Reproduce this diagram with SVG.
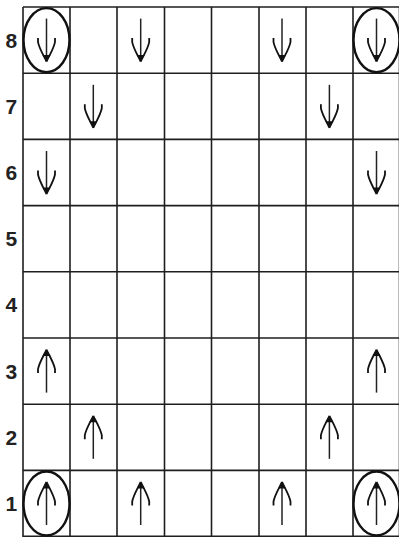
<svg xmlns="http://www.w3.org/2000/svg" width="399" height="537" viewBox="0 0 399 537">
<style>
.grid line{stroke:#1e1e1e;stroke-width:1.6}
.lbl{font-family:"Liberation Sans",Arial,sans-serif;font-weight:bold;font-size:21px;fill:#222;text-anchor:middle}
.ring{fill:none;stroke:#111;stroke-width:2.4}
</style>
<defs>
<g id="down">
<line x1="0" y1="-21.5" x2="0" y2="19" stroke="#222" stroke-width="1.5"/>
<path d="M-8.5,-2 L-8.5,2 C-7,9 -3,15 0,21.5 M8.5,-2 L8.5,2 C7,9 3,15 0,21.5" fill="none" stroke="#111" stroke-width="1.8"/>
<polygon points="-4,15 4,15 0,21.5" fill="#111"/>
</g>
</defs>
<rect width="399" height="537" fill="#fff"/>
<g id="grid" class="grid">
<line x1="23" y1="7" x2="400" y2="7"/>
<line x1="23" y1="73.2" x2="400" y2="73.2"/>
<line x1="23" y1="139.4" x2="400" y2="139.4"/>
<line x1="23" y1="205.6" x2="400" y2="205.6"/>
<line x1="23" y1="271.8" x2="400" y2="271.8"/>
<line x1="23" y1="338" x2="400" y2="338"/>
<line x1="23" y1="404.2" x2="400" y2="404.2"/>
<line x1="23" y1="470.4" x2="400" y2="470.4"/>
<line x1="23" y1="536.4" x2="400" y2="536.4"/>
<line x1="23" y1="7" x2="23" y2="537"/>
<line x1="70" y1="7" x2="70" y2="537"/>
<line x1="117" y1="7" x2="117" y2="537"/>
<line x1="164.5" y1="7" x2="164.5" y2="537"/>
<line x1="211.5" y1="7" x2="211.5" y2="537"/>
<line x1="259" y1="7" x2="259" y2="537"/>
<line x1="306" y1="7" x2="306" y2="537"/>
<line x1="353" y1="7" x2="353" y2="537"/>
<line x1="399.5" y1="7" x2="399.5" y2="537"/>
</g>
<g id="labels">
<text class="lbl" x="11.3" y="47.5">8</text>
<text class="lbl" x="11.3" y="113.7">7</text>
<text class="lbl" x="11.3" y="180">6</text>
<text class="lbl" x="11.3" y="246.2">5</text>
<text class="lbl" x="11.3" y="312.4">4</text>
<text class="lbl" x="11.3" y="378.6">3</text>
<text class="lbl" x="11.3" y="444.8">2</text>
<text class="lbl" x="11.3" y="511">1</text>
</g>
<g id="rings">
<ellipse class="ring" cx="46.5" cy="40.1" rx="23" ry="32"/>
<ellipse class="ring" cx="376.5" cy="40.1" rx="23" ry="32"/>
<ellipse class="ring" cx="46.5" cy="503.5" rx="23" ry="32"/>
<ellipse class="ring" cx="376.5" cy="503.5" rx="23" ry="32"/>
</g>
<g id="arrows">
<use href="#down" transform="translate(46.5,40.1)"/>
<use href="#down" transform="translate(140.7,40.1)"/>
<use href="#down" transform="translate(282,40.1)"/>
<use href="#down" transform="translate(376.5,40.1)"/>
<use href="#down" transform="translate(93.3,106.3)"/>
<use href="#down" transform="translate(329.4,106.3)"/>
<use href="#down" transform="translate(46.5,172.5)"/>
<use href="#down" transform="translate(376.5,172.5)"/>
<use href="#down" transform="translate(46.5,371.1) scale(1,-1)"/>
<use href="#down" transform="translate(376.5,371.1) scale(1,-1)"/>
<use href="#down" transform="translate(93.3,437.3) scale(1,-1)"/>
<use href="#down" transform="translate(329.4,437.3) scale(1,-1)"/>
<use href="#down" transform="translate(46.5,503.5) scale(1,-1)"/>
<use href="#down" transform="translate(140.7,503.5) scale(1,-1)"/>
<use href="#down" transform="translate(282,503.5) scale(1,-1)"/>
<use href="#down" transform="translate(376.5,503.5) scale(1,-1)"/>
</g>
</svg>
